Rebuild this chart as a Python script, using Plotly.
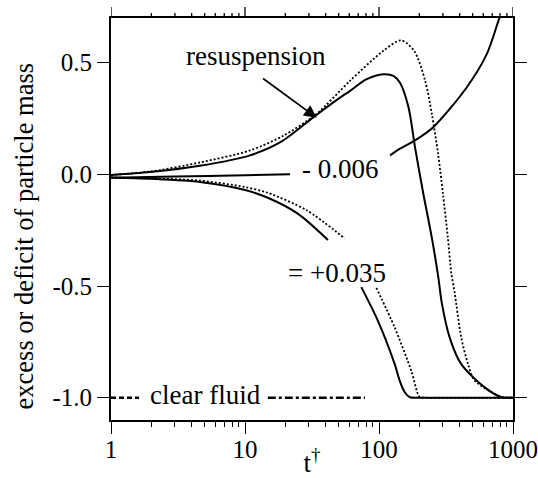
import numpy as np
import plotly.graph_objects as go

# ---- data ----
# upper solid curve (resuspension)
us_t = [1, 1.95, 4.6, 10.9, 18.5, 32.3, 45.6, 60.8, 81, 107.7, 128, 143.5, 166, 185.6, 214, 247, 277, 295, 337, 411, 615, 818, 1000]
us_y = [-0.003, 0.01, 0.038, 0.085, 0.145, 0.255, 0.322, 0.374, 0.426, 0.448, 0.441, 0.41, 0.30, 0.122, -0.086, -0.279, -0.46, -0.58, -0.731, -0.850, -0.954, -0.998, -1.0]
# upper dotted curve
ud_t = [1, 1.95, 4.6, 10.9, 19.2, 34.1, 60.8, 107.7, 146, 183, 221, 248, 276, 300, 326, 346, 367, 411, 462, 518, 818, 1000]
ud_y = [-0.003, 0.012, 0.053, 0.107, 0.172, 0.270, 0.419, 0.553, 0.600, 0.553, 0.419, 0.270, 0.092, -0.086, -0.279, -0.44, -0.53, -0.731, -0.850, -0.924, -0.995, -1.0]
# middle curve (-0.006), broken by its label
m1_t = [1, 3, 10, 21.7]
m1_y = [-0.015, -0.010, -0.004, 0.0]
m2_t = [121, 143.5, 185.6, 254, 451, 637, 777, 850]
m2_y = [0.085, 0.115, 0.152, 0.211, 0.389, 0.538, 0.686, 0.76]
# lower solid curve (+0.035), broken by its label
ls1_t = [1, 2, 4.6, 10, 14.8, 24.9, 41.6]
ls1_y = [-0.014, -0.02, -0.034, -0.07, -0.105, -0.177, -0.294]
ls2_t = [73.8, 98, 131, 143, 156, 170, 200, 1000]
ls2_y = [-0.505, -0.655, -0.850, -0.926, -0.977, -0.998, -1.0, -1.0]
# lower dotted curve
ld1_t = [1, 2, 4.6, 10, 14.8, 28.7, 55.5]
ld1_y = [-0.014, -0.018, -0.028, -0.057, -0.083, -0.16, -0.287]
ld2_t = [95.5, 131, 174, 200, 215, 1000]
ld2_y = [-0.508, -0.686, -0.879, -0.995, -1.0, -1.0]
# clear fluid line
cf1_t = [1, 1.62]
cf2_t = [14.8, 78.6]
cf_y = -1.0

x_ticks = [1, 10, 100, 1000]
x_ticklabels = ["1", "10", "100", "1000"]
x_minor = [2, 3, 4, 5, 6, 7, 8, 9, 20, 30, 40, 50, 60, 70, 80, 90, 200, 300, 400, 500, 600, 700, 800, 900]
y_ticks = [0.5, 0.0, -0.5, -1.0]
y_ticklabels = ["0.5", "0.0", "-0.5", "-1.0"]

FONT = "Liberation Serif, Times New Roman, serif"
PLOT_H = 478 - 18 - 58
fig = go.Figure()

def add_line(t, y, dash="solid", width=2):
    fig.add_trace(go.Scatter(x=t, y=y, mode="lines",
                             line=dict(color="black", width=width, dash=dash, shape="spline", smoothing=0.8),
                             showlegend=False, hoverinfo="skip"))

add_line(ud_t, ud_y, dash="2px,2px", width=1.8)
add_line(us_t, us_y)
add_line(m1_t, m1_y)
add_line(m2_t, m2_y)
add_line(ld1_t, ld1_y, dash="2px,2px", width=1.8)
add_line(ld2_t, ld2_y, dash="2px,2px", width=1.8)
add_line(ls1_t, ls1_y)
add_line(ls2_t, ls2_y)
fig.add_trace(go.Scatter(x=cf1_t, y=[cf_y, cf_y], mode="lines", line=dict(color="black", width=2.5, dash="5px,3px"),
                         showlegend=False, hoverinfo="skip"))
fig.add_trace(go.Scatter(x=cf2_t, y=[cf_y, cf_y], mode="lines", line=dict(color="black", width=2.5, dash="8px,3px,3px,3px"),
                         showlegend=False, hoverinfo="skip"))

L = np.log10
# top-axis tick marks (mirror of the bottom axis ticks); shapes take raw data values on log axes
shapes = []
for tv, ln in [(v, 10) for v in x_ticks] + [(v, 4) for v in x_minor]:
    shapes.append(dict(type="line", xref="x", yref="paper", x0=tv, x1=tv,
                       y0=1 + 1.0 / PLOT_H, y1=1 + (1.0 + ln) / PLOT_H,
                       line=dict(color="black", width=1.3), layer="above"))

ann_font = dict(family=FONT, size=27, color="black")
annotations = [
    dict(x=L(12.1), y=0.528, text="resuspension", showarrow=False, font=ann_font),
    dict(x=L(34.3), y=0.253, ax=L(13.3), ay=0.434, axref="x", ayref="y", text="", showarrow=True,
         arrowhead=2, arrowsize=1.4, arrowwidth=1.8, arrowcolor="black"),
    dict(x=L(52), y=0.024, text="- 0.006", showarrow=False, font=ann_font),
    dict(x=L(49), y=-0.444, text="= +0.035", showarrow=False, font=ann_font),
    dict(x=L(5.07), y=-0.986, text="clear fluid", showarrow=False, font=ann_font),
    dict(x=-0.216, y=0.457, xref="paper", yref="paper", xanchor="center", yanchor="middle",
         text="excess or deficit of particle mass",
         textangle=-90, showarrow=False, font=dict(family=FONT, size=26.5, color="black")),
]

fig.update_layout(
    width=538, height=478, autosize=False,
    margin=dict(l=111, r=25, t=18, b=58),
    paper_bgcolor="white", plot_bgcolor="white",
    font=dict(family=FONT, size=25, color="black"),
    annotations=annotations,
    shapes=shapes,
    xaxis=dict(type="log", range=[0, 3], tickmode="array", tickvals=x_ticks, ticktext=x_ticklabels,
               showgrid=False, zeroline=False, showline=True, linecolor="black", linewidth=2,
               mirror=True, ticks="outside", ticklen=12, tickwidth=1.3, tickcolor="black",
               ticklabelstandoff=-6, automargin=False,
               minor=dict(tickmode="array", tickvals=x_minor, ticks="outside", ticklen=5, tickwidth=1.3,
                          tickcolor="black", showgrid=False),
               title=dict(text="t<sup>†</sup>", font=dict(family=FONT, size=27), standoff=0)),
    yaxis=dict(range=[-1.1, 0.7], tickmode="array", tickvals=y_ticks, ticktext=y_ticklabels,
               showgrid=False, zeroline=False, showline=True, linecolor="black", linewidth=2,
               mirror="ticks", ticks="outside", ticklen=12, tickwidth=1.3, tickcolor="black",
               automargin=False),
)

fig.write_html("out.html")
